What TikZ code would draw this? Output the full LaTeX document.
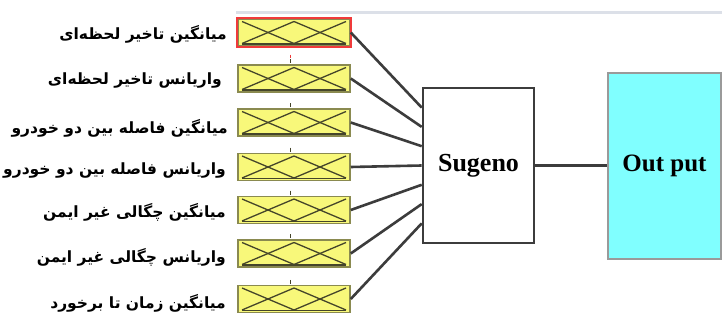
\documentclass[tikz,border=0pt]{standalone}
\usepackage{fontspec}
\setmainfont{Liberation Serif}
\newfontfamily\fafont[Script=Arabic]{DejaVu Sans}
\TeXXeTstate=1
\usetikzlibrary{calc}
\definecolor{fzfill}{HTML}{F8F87A}
\definecolor{fzedge}{HTML}{8A8A50}
\definecolor{mfline}{HTML}{45452A}
\definecolor{wirec}{HTML}{3C3C3C}
\definecolor{outfill}{HTML}{80FFFF}
\definecolor{outedge}{HTML}{9A9A9A}
\definecolor{rulec}{HTML}{DCE0E8}
\definecolor{selred}{HTML}{F03A3A}
\begin{document}
\begin{tikzpicture}[x=1pt,y=-1pt,
  fzbox/.style={draw=fzedge,fill=fzfill,line width=1.5pt,minimum width=112pt,minimum height=27pt,inner sep=0pt},
  lbl/.style={anchor=east,inner sep=0pt,font=\fafont\bfseries\fontsize{15.5}{18}\selectfont},
  wire/.style={draw=wirec,line width=2.6pt},
  mf/.style={draw=mfline,line width=1.3pt},
  tickmark/.style={draw=mfline,line width=0.8pt},
  sugbox/.style={draw=wirec,fill=white,line width=2.6pt,minimum width=111pt,minimum height=155pt,inner sep=0pt,font=\bfseries\fontsize{26}{30}\selectfont},
  outbox/.style={draw=outedge,fill=outfill,line width=1.8pt,minimum width=113pt,minimum height=186pt,inner sep=0pt,font=\bfseries\fontsize{25}{30}\selectfont}]
\useasboundingbox (0,0) rectangle (722,320);
\fill[white] (0,0) rectangle (722,320);

% light rule along the top of the editor area
\draw[rulec,line width=3pt] (236,13) -- (722,13);

% input variables
\foreach \i/\cy in {1/32.5,2/78.5,3/122.5,4/167,5/210,6/253.5,7/299}{
  \node[fzbox] (in\i) at (294,\cy) {};
  \begin{scope}[shift={(294,\cy)}]
    \draw[mf] (-52,-11) -- (0,11);
    \draw[mf] (-52,11) -- (0,-11) -- (52,11);
    \draw[mf] (0,11) -- (52,-11);
    \draw[mfline,line width=1.6pt] (-52,11.5) -- (52,11.5);
  \end{scope}
}
\draw[selred,line width=2.2pt] (in1.north west) rectangle (in1.south east);
\draw[selred,line width=0.8pt] ($(in1.south)+(-4,8)$) -- ++(0,3);
\foreach \i in {2,...,7}{
  \draw[tickmark] ($(in\i.north)+(-4,-5)$) -- ++(0,4);
}

% variable names
\node[lbl] (l1) at (227,34) {\beginR میانگین تاخیر لحظه‌ای\endR};
\node[lbl] (l2) at (222,81) {\beginR واریانس تاخیر لحظه‌ای\endR};
\node[lbl] (l3) at (228,128) {\beginR میانگین فاصله بین دو خودرو\endR};
\node[lbl] (l4) at (226,171) {\beginR واریانس فاصله بین دو خودرو\endR};
\node[lbl] (l5) at (226,212) {\beginR میانگین چگالی غیر ایمن\endR};
\node[lbl] (l6) at (226,257) {\beginR واریانس چگالی غیر ایمن\endR};
\node[lbl] (l7) at (226,303) {\beginR میانگین زمان تا برخورد\endR};

% inference system and output
\node[sugbox] (sug) at (478.5,165.5) {Sugeno};
\node[outbox] (out) at (664.5,166) {Out put};

\foreach \i in {1,...,7}{
  \draw[wire] (in\i.east) -- ($(sug.west)+(0,{(\i-4)*19.3})$);
}
\draw[wire] (sug.east) -- (sug.east -| out.west);
\end{tikzpicture}
\end{document}
